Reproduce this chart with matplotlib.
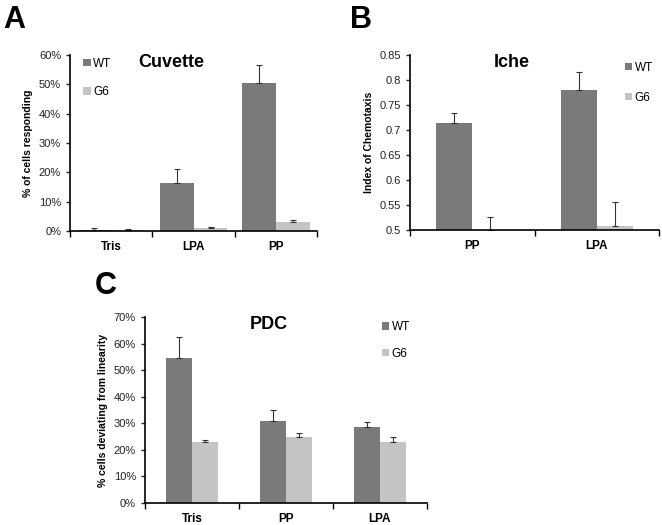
import numpy as np
import matplotlib.pyplot as plt
from matplotlib.ticker import FuncFormatter, MultipleLocator

plt.rcParams['font.family'] = ['Liberation Sans', 'DejaVu Sans']

# Panel A: Cuvette
cat_a = ["Tris", "LPA", "PP"]
wt_a = [0.5, 16.5, 50.5]
wt_a_err = [0.6, 4.5, 6.3]
g6_a = [0.3, 1.0, 3.0]
g6_a_err = [0.5, 0.5, 0.8]

# Panel B: Iche
cat_b = ["PP", "LPA"]
wt_b = [0.715, 0.780]
wt_b_err = [0.019, 0.037]
g6_b = [0.500, 0.508]
g6_b_err = [0.025, 0.047]

# Panel C: PDC
cat_c = ["Tris", "PP", "LPA"]
wt_c = [54.7, 31.0, 28.5]
wt_c_err = [7.8, 4.0, 2.0]
g6_c = [23.0, 24.7, 23.0]
g6_c_err = [0.8, 1.5, 2.0]

col_wt = "#7a7a7a"
col_g6 = "#c4c4c4"

fig = plt.figure(figsize=(6.62, 5.25), dpi=100)


def panel(rect, cats, wt, wt_err, g6, g6_err, width, base, ylim, step, fmt,
          ylabel, title, title_xy, leg_xy, leg_sp):
    ax = fig.add_axes(rect)
    n = len(cats)
    x = np.arange(n) + 0.5
    hw = np.array(wt) - base
    hg = np.array(g6) - base
    ax.bar(x - width, hw, width, bottom=base, align='edge', color=col_wt,
           label="WT", yerr=[np.zeros(n), wt_err], ecolor="#333333",
           error_kw=dict(elinewidth=0.8, capsize=2.5, capthick=0.8))
    ax.bar(x, hg, width, bottom=base, align='edge', color=col_g6,
           label="G6", yerr=[np.zeros(n), g6_err], ecolor="#333333",
           error_kw=dict(elinewidth=0.8, capsize=2.5, capthick=0.8))
    ax.set_xlim(0, n)
    ax.set_ylim(*ylim)
    ax.yaxis.set_major_locator(MultipleLocator(step))
    ax.yaxis.set_major_formatter(FuncFormatter(fmt))
    ax.set_xticks(x)
    ax.set_xticklabels(cats, fontsize=8.5, fontweight='bold')
    ax.set_xticks(np.arange(n + 1), minor=True)
    ax.tick_params(axis='x', which='major', length=0, pad=7)
    ax.tick_params(axis='x', which='minor', length=4, width=1)
    ax.tick_params(axis='y', labelsize=8, length=3, width=1, colors="#222222")
    for s in ['top', 'right']:
        ax.spines[s].set_visible(False)
    for s in ['left', 'bottom']:
        ax.spines[s].set_linewidth(1.2)
    ax.set_ylabel(ylabel, fontsize=7.5, fontweight='bold')
    ax.text(title_xy[0], title_xy[1], title, transform=ax.transAxes,
            fontsize=13, fontweight='bold', ha='center', va='center')
    ax.legend(loc='upper left', bbox_to_anchor=leg_xy, frameon=False,
              fontsize=8.5, handlelength=0.6, handleheight=0.6,
              handletextpad=0.2, labelspacing=leg_sp, borderpad=0)
    return ax


pct = lambda v, p: "%d%%" % round(v)

panel([0.106, 0.56, 0.373, 0.335], cat_a, wt_a, wt_a_err, g6_a, g6_a_err,
      0.41, 0, (0, 60), 10, pct, "% of cells responding", "Cuvette",
      (0.41, 0.96), (0.03, 1.02), 1.4)

panel([0.619, 0.562, 0.377, 0.333], cat_b, wt_b, wt_b_err, g6_b, g6_b_err,
      0.29, 0.5, (0.5, 0.85), 0.05, lambda v, p: "%g" % round(v, 2),
      "Index of Chemotaxis", "Iche", (0.41, 0.96), (0.84, 0.995), 1.5)

panel([0.219, 0.042, 0.426, 0.354], cat_c, wt_c, wt_c_err, g6_c, g6_c_err,
      0.28, 0, (0, 70), 10, pct, "% cells deviating from linearity", "PDC",
      (0.44, 0.96), (0.82, 1.01), 1.25)

fig.text(0.005, 0.99, "A", fontsize=22, fontweight='bold', va='top')
fig.text(0.528, 0.99, "B", fontsize=22, fontweight='bold', va='top')
fig.text(0.143, 0.483, "C", fontsize=22, fontweight='bold', va='top')

fig.savefig("out.png", dpi=100)
